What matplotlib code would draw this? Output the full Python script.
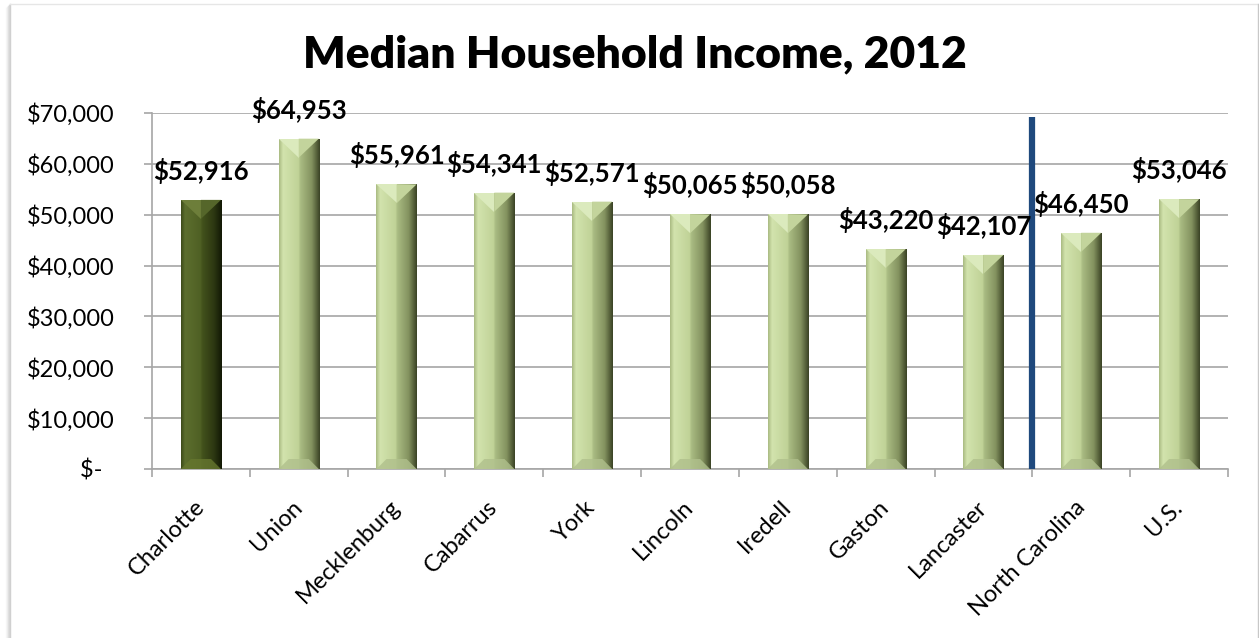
import numpy as np
import matplotlib
matplotlib.use("Agg")
import matplotlib.pyplot as plt
from matplotlib.colors import LinearSegmentedColormap
from matplotlib.patches import Polygon
from matplotlib.lines import Line2D

# ---------------- data ----------------
categories = ["Charlotte", "Union", "Mecklenburg", "Cabarrus", "York", "Lincoln",
              "Iredell", "Gaston", "Lancaster", "North Carolina", "U.S."]
incomes = [52916, 64953, 55961, 54341, 52571, 50065, 50058, 43220, 42107, 46450, 53046]
highlight = ["Charlotte"]
separator_before = "North Carolina"
separator_top = 69300
y_ticks = [0, 10000, 20000, 30000, 40000, 50000, 60000, 70000]
y_tick_labels = ["$-  ", "$10,000", "$20,000", "$30,000", "$40,000",
                 "$50,000", "$60,000", "$70,000"]
title = "Median Household Income, 2012"

# ---------------- style ----------------
plt.rcParams['font.family'] = ['Lato', 'DejaVu Sans']
W, H = 1259, 638
fig = plt.figure(figsize=(W / 100, H / 100), dpi=100)
fig.patch.set_facecolor("white")

left_px, right_px, top_px, bottom_px = 152, 1228, 113, 469
ax = fig.add_axes([left_px / W, 1 - bottom_px / H,
                   (right_px - left_px) / W, (bottom_px - top_px) / H])
n = len(categories)
x = np.arange(n)
ax.set_xlim(-0.5, n - 0.5)
ax.set_ylim(y_ticks[0], y_ticks[-1])

grid_c = "#a6a6a6"
ax.set_yticks(y_ticks)
ax.set_yticklabels(y_tick_labels)
ax.yaxis.grid(True, color=grid_c, lw=1.2, zorder=0)
ax.set_axisbelow(True)
for s in ["top", "right"]:
    ax.spines[s].set_visible(False)
for s in ["left", "bottom"]:
    ax.spines[s].set_color(grid_c)
    ax.spines[s].set_linewidth(1.2)
ax.tick_params(axis="y", length=6, width=1.2, color=grid_c, labelsize=17, pad=21)
ax.set_xticks(x)
ax.set_xticklabels(categories, rotation=45, ha="right", rotation_mode="anchor",
                   va="center")
ax.tick_params(axis="x", which="major", length=0, labelsize=17, pad=25)
ax.set_xticks(np.arange(n + 1) - 0.5, minor=True)
ax.tick_params(axis="x", which="minor", length=6, width=1.2, color=grid_c)

# bars
bar_w = 0.41
light_cmap = LinearSegmentedColormap.from_list("light", [
    (0.0, "#a9ba82"), (0.10, "#d2e3ad"), (0.48, "#c0d297"), (0.52, "#aabc83"),
    (0.80, "#83925f"), (1.0, "#3a4224")])
dark_cmap = LinearSegmentedColormap.from_list("dark", [
    (0.0, "#3c4a1a"), (0.10, "#5c6e2e"), (0.48, "#4f6024"), (0.52, "#43521c"),
    (0.80, "#2d3812"), (1.0, "#121805")])

bars = ax.bar(x, incomes, width=bar_w, color="none", edgecolor="none", zorder=3)
grad = np.linspace(0, 1, 256).reshape(1, -1)
data_per_px = (y_ticks[-1] - y_ticks[0]) / ax.bbox.height
xdata_per_px = n / ax.bbox.width
top_d = 19 * data_per_px
bot_d = 10 * data_per_px
bot_s = 10 * xdata_per_px
for cat, b in zip(categories, bars):
    x0, w, h = b.get_x(), b.get_width(), b.get_height()
    x1, xc = x0 + w, x0 + w / 2
    is_hi = cat in highlight
    im = ax.imshow(grad, extent=(x0, x1, 0, h), aspect="auto",
                   cmap=dark_cmap if is_hi else light_cmap, zorder=3)
    im.set_clip_path(b)
    tl, tr = ("#6d7e3a", "#55662a") if is_hi else ("#dbeabd", "#c3d49c")
    ax.add_patch(Polygon([(x0, h), (xc, h), (xc, h - top_d)], closed=True,
                         fc=tl, ec="none", zorder=4))
    ax.add_patch(Polygon([(xc, h), (x1, h), (xc, h - top_d)], closed=True,
                         fc=tr, ec="none", zorder=4))
    bc = "#66772f" if is_hi else "#b0c08c"
    ax.add_patch(Polygon([(x0, 0), (x1, 0), (x1 - bot_s, bot_d), (x0 + bot_s, bot_d)],
                         closed=True, fc=bc, ec="none", alpha=0.8, zorder=4))

ax.set_xlim(-0.5, n - 0.5)
ax.set_ylim(y_ticks[0], y_ticks[-1])

# data labels
for xi, v in zip(x, incomes):
    ax.annotate(f"${v:,}", (xi, v), xytext=(0, 14.4), textcoords="offset points",
                ha="center", va="baseline", fontsize=18.5, fontweight="bold",
                zorder=6, annotation_clip=False)

# separator line
sep_x = categories.index(separator_before) - 0.5
ax.plot([sep_x, sep_x], [y_ticks[0], separator_top], color="#1f497d", lw=4.5,
        solid_capstyle="butt", zorder=5, clip_on=False)

# title
fig.text(635 / W, 1 - 54 / H, title, ha="center", va="center",
         fontsize=32, fontweight="heavy")

# frame with left shadow
for i, a in enumerate([0.05, 0.1, 0.18, 0.28]):
    fig.add_artist(Line2D([(6 + i) / W, (6 + i) / W], [0, 1 - (4 + 4 - i) / H],
                          color="#808080", alpha=a, lw=1))
fig.add_artist(Line2D([10 / W, 10 / W], [0, 1 - 4 / H], color="#d0d0d0", lw=1))
fig.add_artist(Line2D([10 / W, 1257.5 / W], [1 - 4 / H, 1 - 4 / H], color="#e6e6e6", lw=1))
fig.add_artist(Line2D([1257.5 / W, 1257.5 / W], [0, 1 - 4 / H], color="#c8c8c8", lw=1))

fig.savefig("out.png", dpi=100, facecolor="white")
